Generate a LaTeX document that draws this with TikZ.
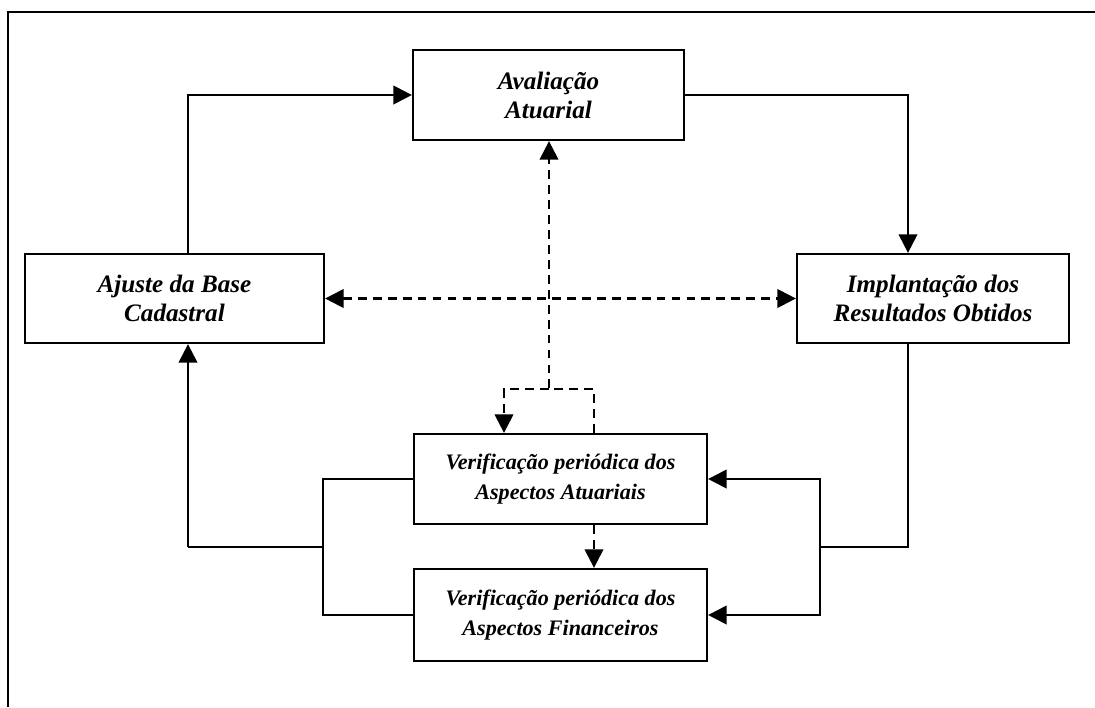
\documentclass[tikz,border=0pt]{standalone}
\usepackage{fontspec}
\setmainfont{Liberation Serif}
\usepackage{tikz}
\usetikzlibrary{arrows.meta}

\begin{document}
\begin{tikzpicture}[x=0.02cm,y=-0.02cm,line width=1.3pt]

    \tikzstyle{caixa}=[draw,align=center,inner sep=0pt,font=\bfseries\itshape\fontsize{14.3}{16.5}\selectfont]
    \tikzstyle{caixav}=[caixa,font=\bfseries\itshape\fontsize{12.6}{17.2}\selectfont]
    \tikzstyle{seta}=[-{Triangle[length=0.37cm,width=0.37cm]}]
    \tikzstyle{tracej}=[dash pattern=on 5pt off 3.5pt]

    \useasboundingbox (0,0) rectangle (1095,707);
    % moldura
    \draw (1095,12)--(8,12)--(8,707);

    \node[caixa,minimum width=5.42cm,minimum height=1.8cm](aval) at (548.5,95){Avaliação\\Atuarial};
    \node[caixa,minimum width=5.98cm,minimum height=1.78cm](ajuste) at (174.5,298.5){Ajuste da Base\\Cadastral};
    \node[caixa,minimum width=5.44cm,minimum height=1.78cm](impl) at (933,298.5){Implantação dos\\Resultados Obtidos};
    \node[caixav,minimum width=5.86cm,minimum height=1.8cm](vatu) at (560.5,479){Verificação periódica dos\\Aspectos Atuariais};
    \node[caixav,minimum width=5.86cm,minimum height=1.84cm](vfin) at (560.5,615){Verificação periódica dos\\Aspectos Financeiros};

    \coordinate (a1) at (188,547);
    \coordinate (b1) at (323,547);
    \coordinate (r1) at (908,547);
    \coordinate (r2) at (820,547);
    \coordinate (d1) at (549,389);
    \coordinate (d2) at (594,389);
    \coordinate (d3) at (504,389);

    % ciclo
    \draw[seta] (a1 |- ajuste.north) |- (aval.west);
    \draw[seta] (aval.east) -| (r1 |- impl.north);
    \draw (impl.south -| r1)--(r1)--(r2);
    \draw[seta] (r2) |- (vatu.east);
    \draw[seta] (r2) |- (vfin.east);
    \draw (vatu.west) -| (b1 |- vfin.west)--(vfin.west);
    \draw (b1)--(a1);
    \draw[seta] (a1)--(a1 |- ajuste.south);

    % tracejadas
    \draw[tracej,seta] (d2 |- vatu.north)--(d2)--(d1)--(d1 |- aval.south);
    \draw[tracej,seta] (d1)--(d3)--(d3 |- vatu.north);
    \draw[tracej,seta] (d2 |- vatu.south)--(d2 |- vfin.north);
    \draw[tracej,{Triangle[length=0.37cm,width=0.37cm]}-{Triangle[length=0.37cm,width=0.37cm]}] (ajuste.east)--(impl.west);

\end{tikzpicture}
\end{document}
